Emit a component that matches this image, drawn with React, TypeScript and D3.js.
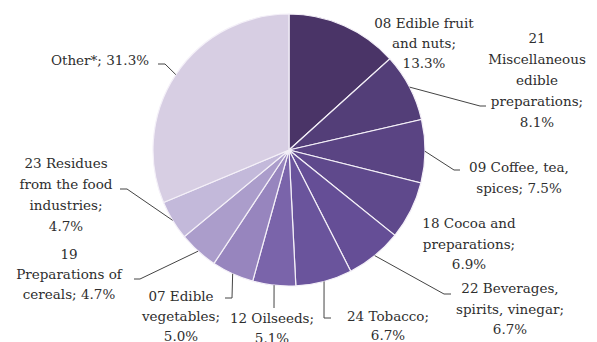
import React from "react";
import * as d3 from "d3";

const categories = [
  "08 Edible fruit and nuts",
  "21 Miscellaneous edible preparations",
  "09 Coffee, tea, spices",
  "18 Cocoa and preparations",
  "22 Beverages, spirits, vinegar",
  "24 Tobacco",
  "12 Oilseeds",
  "07 Edible vegetables",
  "19 Preparations of cereals",
  "23 Residues from the food industries",
  "Other*",
];
const values = [13.3, 8.1, 7.5, 6.9, 6.7, 6.7, 5.1, 5.0, 4.7, 4.7, 31.3];
const labelLines = [
  ["08 Edible fruit", "and nuts;", "13.3%"],
  ["21", "Miscellaneous", "edible", "preparations;", "8.1%"],
  ["09 Coffee, tea,", "spices; 7.5%"],
  ["18 Cocoa and", "preparations;", "6.9%"],
  ["22 Beverages,", "spirits, vinegar;", "6.7%"],
  ["24 Tobacco;", "6.7%"],
  ["12 Oilseeds;", "5.1%"],
  ["07 Edible", "vegetables;", "5.0%"],
  ["19", "Preparations of", "cereals; 4.7%"],
  ["23 Residues", "from the food", "industries;", "4.7%"],
  ["Other*; 31.3%"],
];
const colors = [
  "#4a3467", "#533e78", "#5a4483", "#5f498c", "#654e96", "#6a549c",
  "#7a64aa", "#9785be", "#ab9dcb", "#c3b9da", "#d7cee3",
];

// layout (label anchors and leader routing)
const W = 597, H = 342;
const CX = 289, CY = 150, R = 136;
const labelLayout: { cx: number; cy: number; lh: number; elbow?: [number, number]; end?: [number, number] }[] = [
  { cx: 424, cy: 23, lh: 20 },
  { cx: 537, cy: 38, lh: 21, elbow: [480, 106], end: [486, 106] },
  { cx: 519, cy: 167, lh: 21, elbow: [454, 170], end: [460, 170] },
  { cx: 469, cy: 223, lh: 20.5 },
  { cx: 510, cy: 288, lh: 20.5, elbow: [444, 294], end: [451, 294] },
  { cx: 388, cy: 316, lh: 19, elbow: [324, 318], end: [331, 318] },
  { cx: 272, cy: 318, lh: 20, elbow: [274, 308], end: [274, 308] },
  { cx: 181, cy: 296, lh: 20, elbow: [232, 298], end: [225, 298] },
  { cx: 69, cy: 254, lh: 20, elbow: [140, 279], end: [134, 279] },
  { cx: 66, cy: 163, lh: 21, elbow: [127, 189], end: [120, 189] },
  { cx: 100, cy: 60, lh: 20, elbow: [165, 64], end: [158, 64] },
];

export default function App() {
  const pie = d3.pie<number>().sort(null).value((d) => d)(values);
  const arc = d3.arc<d3.PieArcDatum<number>>().innerRadius(0).outerRadius(R);
  return (
    <svg width={W} height={H} style={{ position: "absolute", left: 0, top: 0, background: "#fff" }}>
      <g transform={`translate(${CX},${CY})`}>
        {pie.map((p, i) => (
          <path key={i} d={arc(p) || ""} fill={colors[i]} stroke="#f4f0f8" strokeWidth={1.2} />
        ))}
      </g>
      {pie.map((p, i) => {
        const L = labelLayout[i];
        if (!L.elbow || !L.end) return null;
        const a = (p.startAngle + p.endAngle) / 2;
        const sx = CX + R * Math.sin(a);
        const sy = CY - R * Math.cos(a);
        return (
          <polyline
            key={"l" + i}
            points={`${sx},${sy} ${L.elbow[0]},${L.elbow[1]} ${L.end[0]},${L.end[1]}`}
            fill="none"
            stroke="#444"
            strokeWidth={1}
          />
        );
      })}
      {labelLines.map((lines, i) => {
        const L = labelLayout[i];
        return (
          <text
            key={"t" + i}
            textAnchor="middle"
            fontFamily="'DejaVu Serif', serif"
            fontSize={13.5}
            fill="#2e2e2e"
            aria-label={categories[i]}
          >
            {lines.map((ln, j) => (
              <tspan key={j} x={L.cx} y={L.cy + 5 + j * L.lh}>
                {ln}
              </tspan>
            ))}
          </text>
        );
      })}
    </svg>
  );
}
